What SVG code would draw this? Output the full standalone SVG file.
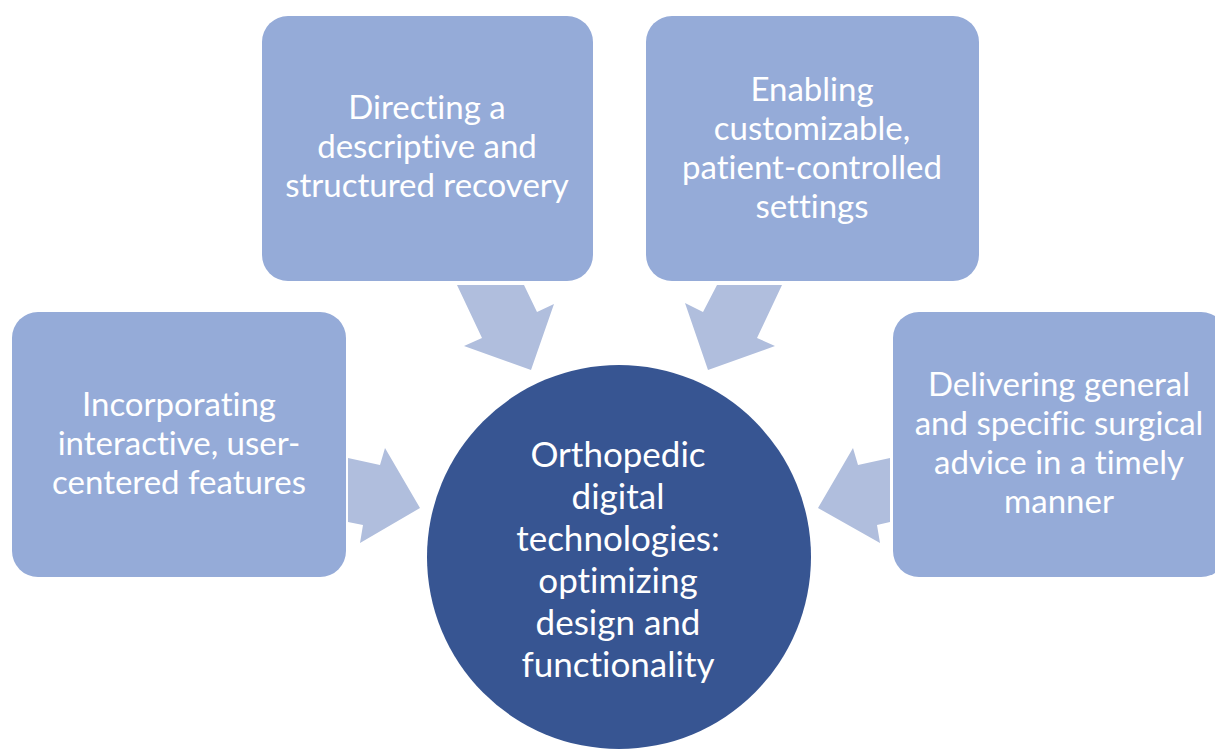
<svg xmlns="http://www.w3.org/2000/svg" width="1215" height="751" viewBox="0 0 1215 751">
<style>
.box{fill:#95abd8;}
.hub{fill:#375592;}
.arr{fill:#b0bedd;}
text{font-family:Lato,"Open Sans",sans-serif;fill:#ffffff;text-anchor:middle;font-variant-ligatures:none;}
.bt{font-size:33px;}
.ct{font-size:35px;}
</style>
<rect width="1215" height="751" fill="#ffffff"/>
<g id="connectors">
<polygon class="arr" points="457,285 524,285 537,312 554,304 531,370 464,346 482,338"/>
<polygon class="arr" points="782,285 717,285 703,312 685,303 708,370 775,346 757,338"/>
<polygon class="arr" points="348,458 380,465 385,448 420,508 360,543 363,525 348,522"/>
<polygon class="arr" points="890,458 858,465 853,448 818,508 880,543 877,525 890,522"/>
</g>
<g id="node-top-left">
<rect class="box" x="262" y="16" width="331" height="265" rx="26"/>
<text class="bt"><tspan x="427" y="119">Directing a</tspan><tspan x="427" y="158">descriptive and</tspan><tspan x="427" y="197">structured recovery</tspan></text>
</g>
<g id="node-top-right">
<rect class="box" x="646" y="16" width="333" height="265" rx="26"/>
<text class="bt"><tspan x="812" y="101">Enabling</tspan><tspan x="812" y="140">customizable,</tspan><tspan x="812" y="179">patient-controlled</tspan><tspan x="812" y="218">settings</tspan></text>
</g>
<g id="node-left">
<rect class="box" x="12" y="312" width="334" height="265" rx="26"/>
<text class="bt"><tspan x="179" y="416">Incorporating</tspan><tspan x="179" y="455">interactive, user-</tspan><tspan x="179" y="494">centered features</tspan></text>
</g>
<g id="node-right">
<rect class="box" x="893" y="312" width="334" height="265" rx="26"/>
<text class="bt"><tspan x="1059" y="396">Delivering general</tspan><tspan x="1059" y="435">and specific surgical</tspan><tspan x="1059" y="474">advice in a timely</tspan><tspan x="1059" y="513">manner</tspan></text>
</g>
<g id="node-center">
<circle class="hub" cx="619" cy="557" r="192"/>
<text class="ct"><tspan x="618" y="467">Orthopedic</tspan><tspan x="618" y="509">digital</tspan><tspan x="618" y="551">technologies:</tspan><tspan x="618" y="593">optimizing</tspan><tspan x="618" y="635">design and</tspan><tspan x="618" y="677">functionality</tspan></text>
</g>
</svg>
